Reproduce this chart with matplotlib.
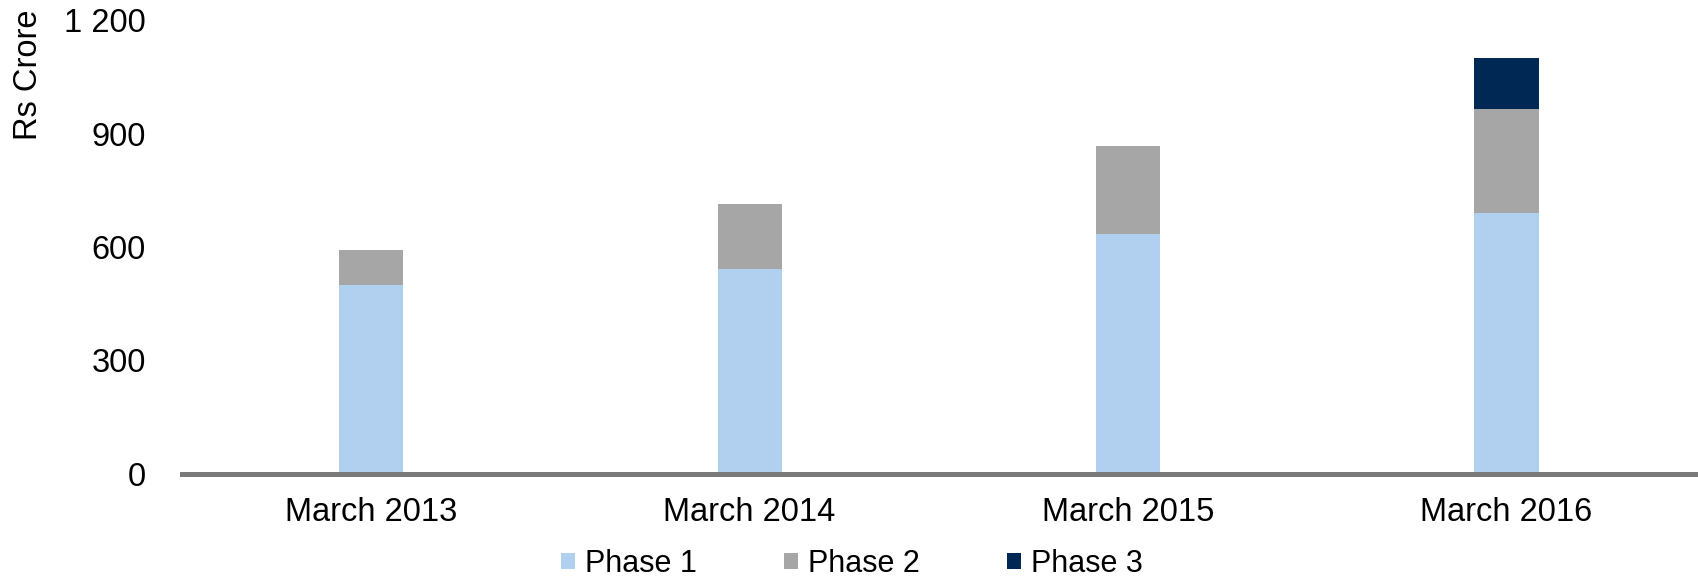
import matplotlib
matplotlib.use('Agg')
from matplotlib import pyplot as plt
from matplotlib.ticker import FuncFormatter
import numpy as np

plt.rcParams['font.family'] = ['Liberation Sans', 'DejaVu Sans']

categories = ['March 2013', 'March 2014', 'March 2015', 'March 2016']
phase1 = [500, 542, 633, 690]
phase2 = [91, 172, 234, 275]
phase3 = [0, 0, 0, 135]
yticks = [0, 300, 600, 900, 1200]

c1 = '#B1CFEE'
c2 = '#A6A6A6'
c3 = '#002855'

fig = plt.figure(figsize=(16.99, 5.81), dpi=100)
ax = fig.add_axes([0.1072, 0.185, 0.8908, 0.78])

x = np.arange(len(categories))
w = 0.17
p1 = np.array(phase1)
p2 = np.array(phase2)
p3 = np.array(phase3)
ax.bar(x, p1, w, color=c1, label='Phase 1')
ax.bar(x, p2, w, bottom=p1, color=c2, label='Phase 2')
ax.bar(x, p3, w, bottom=p1 + p2, color=c3, label='Phase 3')

ax.set_xlim(-0.5, 3.5)
ax.set_ylim(0, 1200)
ax.set_yticks(yticks)
ax.yaxis.set_major_formatter(FuncFormatter(lambda v, p: '{:,.0f}'.format(v).replace(',', ' ')))
ax.set_xticks(x)
ax.set_xticklabels(categories)

for s in ['top', 'right', 'left']:
    ax.spines[s].set_visible(False)
ax.spines['bottom'].set_color('#7a7a7a')
ax.spines['bottom'].set_linewidth(3.6)
ax.tick_params(axis='both', length=0, labelsize=23.5, colors='#000000')
ax.tick_params(axis='y', pad=26)
ax.tick_params(axis='x', pad=17)

fig.text(0.017, 1 - 75 / 581, 'Rs Crore', rotation=90, fontsize=23.5,
         ha='center', va='center')

fig.legend(loc='center', bbox_to_anchor=(0.5016, 1 - 564 / 581), ncol=3,
           frameon=False, fontsize=22,
           handlelength=0.46, handleheight=0.46,
           handletextpad=0.33, columnspacing=2.85)

fig.savefig('out.png', dpi=100)
